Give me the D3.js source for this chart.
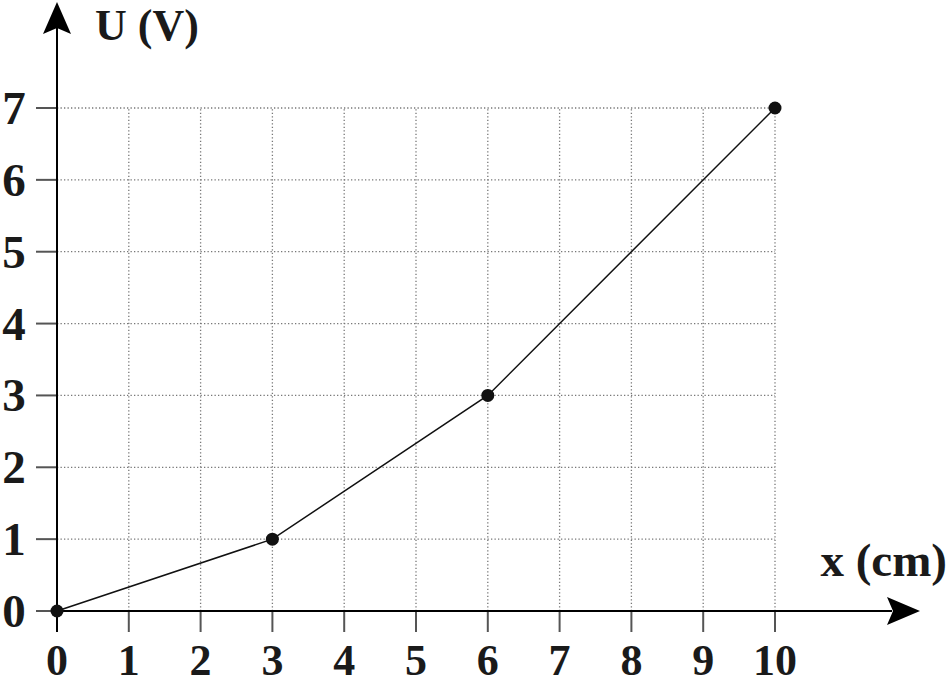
<!DOCTYPE html>
<html><head><meta charset="utf-8">
<script src="https://cdn.jsdelivr.net/npm/d3@7"></script>
<style>body{margin:0;background:#fff}svg{display:block}</style>
</head><body>
<script>
const xValues = [0, 3, 6, 10];
const uValues = [0, 1, 3, 7];
const xTicks = [0,1,2,3,4,5,6,7,8,9,10];
const yTicks = [0,1,2,3,4,5,6,7];
const xTitle = "x (cm)";
const yTitle = "U (V)";

const W = 950, H = 685;
const svg = d3.select("body").append("svg").attr("width", W).attr("height", H);
const x = d3.scaleLinear().domain([0, 10]).range([57, 775]);
const y = d3.scaleLinear().domain([0, 7]).range([611, 108]);
const font = "'Liberation Serif', 'Times New Roman', serif";

// grid
const g = svg.append("g");
g.selectAll("line.vx").data(xTicks.slice(1)).join("line")
  .attr("x1", d => x(d)).attr("x2", d => x(d)).attr("y1", y(0)).attr("y2", y(7))
  .attr("stroke", "#777").attr("stroke-width", 1.3).attr("stroke-dasharray", "1.3,2.2");
g.selectAll("line.hy").data(yTicks.slice(1)).join("line")
  .attr("y1", d => y(d)).attr("y2", d => y(d)).attr("x1", x(0)).attr("x2", x(10))
  .attr("stroke", "#777").attr("stroke-width", 1.3).attr("stroke-dasharray", "1.3,2.2");

// ticks
svg.selectAll("line.xt").data(xTicks).join("line")
  .attr("x1", d => x(d)).attr("x2", d => x(d)).attr("y1", y(0)).attr("y2", y(0) + 21)
  .attr("stroke", "#555").attr("stroke-width", 2);
svg.selectAll("line.yt").data(yTicks).join("line")
  .attr("y1", d => y(d)).attr("y2", d => y(d)).attr("x1", x(0) - 21).attr("x2", x(0))
  .attr("stroke", "#555").attr("stroke-width", 2);

// axes
svg.append("line").attr("x1", x(0)).attr("x2", 892).attr("y1", y(0)).attr("y2", y(0))
  .attr("stroke", "#000").attr("stroke-width", 2);
svg.append("line").attr("x1", x(0)).attr("x2", x(0)).attr("y1", y(0) + 21).attr("y2", 28)
  .attr("stroke", "#000").attr("stroke-width", 2);
svg.append("path").attr("d", `M920,${y(0)} L887,${y(0)-14} L893,${y(0)} L887,${y(0)+14} Z`).attr("fill", "#000");
svg.append("path").attr("d", `M${x(0)},2 L${x(0)-14},34 L${x(0)},28 L${x(0)+14},34 Z`).attr("fill", "#000");

// tick labels
svg.selectAll("text.xl").data(xTicks).join("text")
  .attr("x", d => x(d)).attr("y", 675).attr("text-anchor", "middle")
  .attr("font-family", font).attr("font-weight", "bold").attr("font-size", 44)
  .attr("fill", "#1a1a1a").text(d => d);
svg.selectAll("text.yl").data(yTicks).join("text")
  .attr("x", 14).attr("y", d => y(d) + 16).attr("text-anchor", "middle")
  .attr("font-family", font).attr("font-weight", "bold").attr("font-size", 47)
  .attr("fill", "#1a1a1a").text(d => d);

// titles
svg.append("text").attr("x", 95).attr("y", 40).attr("font-family", font).attr("font-weight", "bold")
  .attr("font-size", 44).attr("fill", "#1a1a1a").text(yTitle);
svg.append("text").attr("x", 947).attr("y", 576).attr("text-anchor", "end").attr("font-family", font).attr("font-weight", "bold")
  .attr("font-size", 47).attr("fill", "#1a1a1a").text(xTitle);

// data line
const data = xValues.map((v, i) => [v, uValues[i]]);
svg.append("path").datum(data).attr("fill", "none").attr("stroke", "#111").attr("stroke-width", 1.5)
  .attr("d", d3.line().x(d => x(d[0])).y(d => y(d[1])));
svg.selectAll("circle").data(data).join("circle")
  .attr("cx", d => x(d[0])).attr("cy", d => y(d[1])).attr("r", 6.5).attr("fill", "#111");
</script>
</body></html>
